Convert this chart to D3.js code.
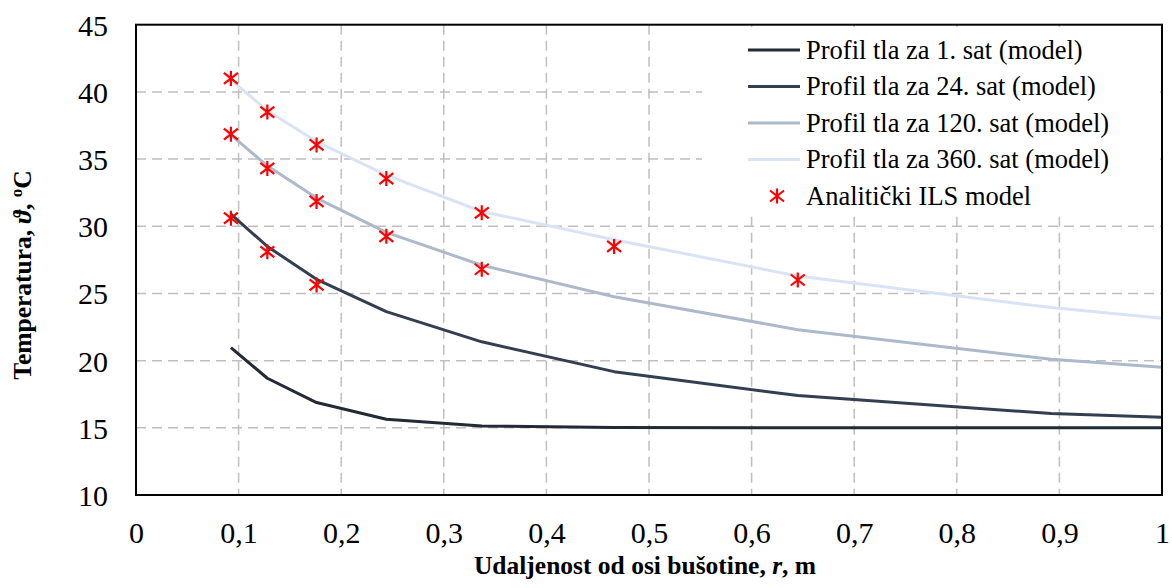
<!DOCTYPE html>
<html>
<head>
<meta charset="utf-8">
<script src="https://cdn.jsdelivr.net/npm/d3@7"></script>
<style>
  html, body { margin: 0; padding: 0; background: #fff; }
  svg { display: block; }
</style>
</head>
<body>
<svg id="chart" width="1172" height="588"></svg>
<script>
// ---- data ----
const radii = [0.0925, 0.128, 0.176, 0.244, 0.337, 0.466, 0.645, 0.892, 1.0];
const model1h   = [20.97, 18.69, 16.88, 15.64, 15.14, 15.02, 15.0, 15.0, 15.0];
const model24h  = [30.9, 28.5, 26.05, 23.65, 21.4, 19.18, 17.4, 16.06, 15.79];
const model120h = [36.8, 34.5, 32.1, 29.55, 27.1, 24.76, 22.3, 20.1, 19.5];
const model360h = [40.9, 38.6, 36.3, 33.8, 31.1, 29.0, 26.3, 23.95, 23.15];

const ilsR = [0.0925, 0.128, 0.176, 0.244, 0.337, 0.466, 0.645];
const ils24h  = [30.6, 28.1, 25.63];
const ils120h = [36.85, 34.3, 31.85, 29.25, 26.8];
const ils360h = [41.0, 38.5, 36.05, 33.55, 31.0, 28.5, 26.0];

const xTicks = [0, 0.1, 0.2, 0.3, 0.4, 0.5, 0.6, 0.7, 0.8, 0.9, 1];
const yTicks = [10, 15, 20, 25, 30, 35, 40, 45];

const seriesNames = [
  "Profil tla za 1. sat (model)",
  "Profil tla za 24. sat (model)",
  "Profil tla za 120. sat (model)",
  "Profil tla za 360. sat (model)"
];
const seriesColors = ["#222a35", "#333f50", "#adb9ca", "#dae3f3"];
const markerName = "Analitički ILS model";

// ---- layout ----
const svg = d3.select("#chart");
const L = 136, R = 1162, T = 24.7, B = 495;
const x = d3.scaleLinear().domain([0, 1]).range([L, R]);
const y = d3.scaleLinear().domain([10, 45]).range([B, T]);
const serif = "\"Liberation Serif\", \"Times New Roman\", Times, serif";

// gridlines
const grid = svg.append("g");
grid.selectAll("line.v").data(xTicks.filter(d => d > 0 && d < 1)).join("line")
  .attr("x1", d => x(d)).attr("x2", d => x(d)).attr("y1", T).attr("y2", B)
  .attr("stroke", "#bfbfbf").attr("stroke-width", 1.5).attr("stroke-dasharray", "10,6");
grid.selectAll("line.h").data(yTicks.filter(d => d > 10 && d < 45)).join("line")
  .attr("x1", L).attr("x2", R).attr("y1", d => y(d)).attr("y2", d => y(d))
  .attr("stroke", "#bfbfbf").attr("stroke-width", 1.5).attr("stroke-dasharray", "10,6");

// legend background (covers gridlines)
svg.append("rect").attr("x", 702).attr("y", 27).attr("width", 458).attr("height", 186).attr("fill", "#fff");

// model lines
const models = [model1h, model24h, model120h, model360h];
const line = d3.line().x(d => x(d[0])).y(d => y(d[1]));
models.forEach((vals, i) => {
  svg.append("path")
    .datum(radii.map((r, j) => [r, vals[j]]))
    .attr("d", line)
    .attr("fill", "none")
    .attr("stroke", seriesColors[i])
    .attr("stroke-width", 3)
    .attr("stroke-linejoin", "round");
});

// markers
const starPath = "M0,-7.5L0,7.5M-7,-5.5L7,5.5M-7,5.5L7,-5.5";
const pts = [];
[ils24h, ils120h, ils360h].forEach(arr => arr.forEach((v, j) => pts.push([ilsR[j], v])));
svg.append("g").selectAll("path").data(pts).join("path")
  .attr("transform", d => `translate(${x(d[0])},${y(d[1])})`)
  .attr("d", starPath).attr("stroke", "#ff0000").attr("stroke-width", 2.2).attr("fill", "none");

// axes frame
svg.append("rect").attr("x", L).attr("y", T).attr("width", R - L).attr("height", B - T)
  .attr("fill", "none").attr("stroke", "#000").attr("stroke-width", 2);

// axes via d3
const fmt = d => String(d).replace(".", ",");
const xAxis = svg.append("g").attr("transform", `translate(0,${B})`)
  .call(d3.axisBottom(x).tickValues(xTicks).tickFormat(fmt).tickSize(0).tickPadding(0));
xAxis.select(".domain").remove();
xAxis.selectAll("text").attr("y", 48).attr("dy", 0)
  .style("font-family", serif).style("font-size", "30px").attr("fill", "#000");

const yAxis = svg.append("g").attr("transform", `translate(${L},0)`)
  .call(d3.axisLeft(y).tickValues(yTicks).tickSize(0).tickPadding(0));
yAxis.select(".domain").remove();
yAxis.selectAll("text").attr("x", -28).attr("dy", "0.35em")
  .style("font-family", serif).style("font-size", "30px").attr("fill", "#000");

// axis titles
const xt = svg.append("text").attr("x", 645).attr("y", 574).attr("text-anchor", "middle")
  .style("font-family", serif).style("font-size", "25.5px").style("font-weight", "bold");
xt.append("tspan").text("Udaljenost od osi bušotine, ");
xt.append("tspan").style("font-style", "italic").text("r");
xt.append("tspan").text(", m");

const yt = svg.append("text").attr("transform", "translate(31,275) rotate(-90)").attr("text-anchor", "middle")
  .style("font-family", serif).style("font-size", "25.5px").style("font-weight", "bold");
yt.append("tspan").text("Temperatura, ");
yt.append("tspan").style("font-style", "italic").text("ϑ");
yt.append("tspan").text(", ");
yt.append("tspan").attr("dy", -9).style("font-size", "17px").text("o");
yt.append("tspan").attr("dy", 9).text("C");

// legend
const lg = svg.append("g");
const rowY = [50, 86.5, 123, 159.5, 196];
seriesNames.forEach((name, i) => {
  lg.append("line").attr("x1", 748).attr("x2", 800).attr("y1", rowY[i]).attr("y2", rowY[i])
    .attr("stroke", seriesColors[i]).attr("stroke-width", 3);
  lg.append("text").attr("x", 806).attr("y", rowY[i]).attr("dy", "0.33em")
    .style("font-family", serif).style("font-size", "26.5px").text(name);
});
lg.append("path").attr("transform", `translate(777,${rowY[4]})`).attr("d", starPath)
  .attr("stroke", "#ff0000").attr("stroke-width", 2.2).attr("fill", "none");
lg.append("text").attr("x", 806).attr("y", rowY[4]).attr("dy", "0.33em")
  .style("font-family", serif).style("font-size", "26.5px").text(markerName);
</script>
</body>
</html>
